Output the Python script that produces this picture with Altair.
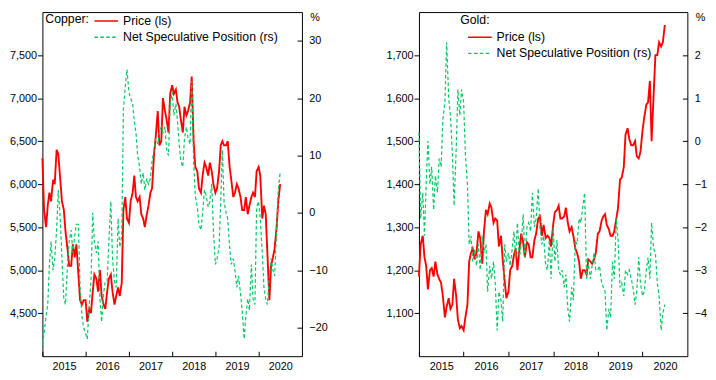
import altair as alt
import pandas as pd

# semi-monthly observation dates (1st and 15th), Jan 2015 - Jul 2020
dates = pd.date_range("2015-01-01", "2020-07-01", freq="SMS")

series_names = ["Price (ls)", "Net Speculative Position (rs)"]
year_ticks = [2015, 2016, 2017, 2018, 2019, 2020]

# ---- Copper ----
copper_price_2015 = [6300, 5700, 5500, 5750, 5900, 5800, 6050, 6000, 6400, 6350, 6050, 5800,
                     5700, 5450, 5250, 5050, 5050, 5300, 5150, 5300, 4950, 4650, 4600, 4650]
copper_price_2016 = [4650, 4400, 4550, 4500, 4750, 4950, 4900, 4750, 5000, 4700, 4600, 4550,
                     4750, 4900, 4950, 4750, 4600, 4700, 4800, 4700, 4850, 5700, 5850, 5600]
copper_price_2017 = [5550, 5800, 5900, 6100, 5850, 5800, 5850, 5650, 5600, 5500, 5650, 5750,
                     5900, 5950, 6350, 6550, 6850, 6450, 6500, 7000, 6850, 6750, 6600, 7050]
copper_price_2018 = [7150, 7050, 7100, 6950, 6900, 6750, 6600, 6900, 6800, 6850, 6950, 7250,
                     6500, 6200, 6150, 5950, 5900, 6100, 6250, 6200, 6100, 6250, 6150, 6000]
copper_price_2019 = [5900, 5950, 6150, 6450, 6500, 6450, 6450, 6500, 6200, 6050, 5850, 5900,
                     6000, 5950, 5850, 5700, 5700, 5850, 5650, 5750, 5850, 5900, 5850, 6150]
copper_price_2020 = [6200, 6100, 5600, 5750, 5650, 5200, 4650, 5050, 5150, 5250, 5500, 5800, 6000]

copper_spec_2015 = [-23, -21, -18, -16, -9, -5, -10, -8, -3, 4, -1, -8,
                    -15, -16, -9, -5, -3, -7, -4, -2, -2, -13, -18, -20]
copper_spec_2016 = [-21, -22, -16, -12, 0, -5, -7, -5, -15, -19, -14, -12,
                    -12, -5, 2, -8, -12, -13, -1, -6, -4, 18, 22, 25]
copper_spec_2017 = [21, 20, 19, 16, 14, 10, 8, 5, 7, 4, 6, 5,
                    6, 9, 11, 13, 12, 14, 15, 14, 15, 11, 10, 19]
copper_spec_2018 = [21, 17, 19, 16, 12, 9, 8, 13, 15, 13, 12, 23,
                    9, 3, 1, -2, -3, 0, 4, 3, 1, 2, 5, -3]
copper_spec_2019 = [-9, -8, -6, 2, 11, 2, 0, -1, -6, -9, -8, -10,
                    -13, -11, -14, -17, -22, -18, -15, -17, -9, -15, -16, 1]
copper_spec_2020 = [2, -1, -7, -13, -15, -16, -11, -8, -10, -11, -3, 4, 7]

# ---- Gold ----
gold_price_2015 = [1185, 1260, 1280, 1230, 1210, 1155, 1200, 1205, 1185, 1220, 1190, 1180,
                   1170, 1140, 1090, 1115, 1135, 1110, 1120, 1180, 1140, 1085, 1065, 1070]
gold_price_2016 = [1060, 1090, 1120, 1220, 1240, 1250, 1225, 1240, 1290, 1275, 1215, 1290,
                   1340, 1330, 1355, 1345, 1310, 1320, 1315, 1255, 1280, 1225, 1175, 1135]
gold_price_2017 = [1150, 1200, 1210, 1235, 1250, 1200, 1250, 1285, 1265, 1230, 1265, 1260,
                   1230, 1230, 1270, 1285, 1320, 1325, 1280, 1305, 1275, 1280, 1275, 1255]
gold_price_2018 = [1305, 1335, 1340, 1350, 1320, 1320, 1325, 1345, 1310, 1290, 1300, 1280,
                   1250, 1240, 1220, 1180, 1200, 1200, 1190, 1225, 1220, 1215, 1225, 1240]
gold_price_2019 = [1285, 1290, 1315, 1325, 1330, 1305, 1295, 1280, 1280, 1290, 1320, 1345,
                   1410, 1415, 1440, 1515, 1530, 1505, 1490, 1490, 1500, 1465, 1460, 1475]
gold_price_2020 = [1525, 1555, 1585, 1590, 1640, 1500, 1610, 1700, 1700, 1730, 1720, 1730, 1770]

gold_spec_2015 = [0.2, -1.8, -1.2, -2.2, -1.0, 0.0, -1.0, -0.6, -1.6, -0.8, -1.2, -0.4,
                  -0.6, 0.5, 0.9, 2.3, 1.0, 0.6, -0.3, -1.5, -0.2, 1.2, 0.6, 1.2]
gold_spec_2016 = [0.9, -0.3, -1.0, -2.4, -2.2, -2.8, -2.5, -2.9, -2.4, -3.0, -2.2, -2.6,
                  -2.4, -3.5, -2.9, -3.2, -2.8, -3.3, -4.4, -3.5, -3.7, -4.2, -2.4, -2.8]
gold_spec_2017 = [-2.6, -2.9, -2.5, -2.1, -2.7, -1.9, -2.7, -2.4, -1.7, -2.7, -2.0, -1.9,
                  -2.1, -1.2, -2.0, -1.8, -1.1, -2.0, -2.4, -2.2, -2.9, -3.0, -2.3, -3.2]
gold_spec_2018 = [-2.0, -2.8, -2.3, -3.0, -3.1, -3.0, -3.4, -3.1, -3.9, -4.2, -3.4, -3.7,
                  -2.3, -2.4, -1.8, -1.9, -1.5, -1.2, -3.2, -2.8, -3.2, -2.9, -2.6, -3.0]
gold_spec_2019 = [-3.0, -2.9, -3.3, -3.4, -3.5, -4.4, -3.9, -4.1, -2.8, -3.2, -1.8, -2.3,
                  -3.4, -3.3, -3.6, -3.0, -3.1, -3.0, -3.2, -3.4, -3.8, -3.5, -2.7, -3.3]
gold_spec_2020 = [-3.6, -3.5, -3.0, -2.7, -3.2, -1.9, -2.5, -2.6, -3.3, -3.6, -4.4, -4.0, -3.8]

copper_price = (copper_price_2015 + copper_price_2016 + copper_price_2017 +
                copper_price_2018 + copper_price_2019 + copper_price_2020)
copper_spec = (copper_spec_2015 + copper_spec_2016 + copper_spec_2017 +
               copper_spec_2018 + copper_spec_2019 + copper_spec_2020)
gold_price = (gold_price_2015 + gold_price_2016 + gold_price_2017 +
              gold_price_2018 + gold_price_2019 + gold_price_2020)
gold_spec = (gold_spec_2015 + gold_spec_2016 + gold_spec_2017 +
             gold_spec_2018 + gold_spec_2019 + gold_spec_2020)

FONT = "Liberation Sans"
RED = "#ff0000"
GREEN = "#00c864"


def frame(values, name):
    return pd.DataFrame({"date": dates, "value": values, "series": name})


def panel(title, price, spec, left_dom, left_vals, right_dom, right_vals,
          width, legend_x, legend_y, title_orient, symbol_offset,
          title_padding, title_baseline, title_line_height):
    x_axis = alt.Axis(
        values=[alt.DateTime(year=y, month=1, date=1) for y in year_ticks],
        format="%Y", title=None, grid=False, domain=False,
        offset=-5, tickSize=5, labelPadding=5,
        labelOffset=width / 12.0, labelFlush=False, labelOverlap=False,
    )
    x = alt.X("date:T",
              scale=alt.Scale(domain=[alt.DateTime(year=2015, month=1, date=1),
                                      alt.DateTime(year=2021, month=1, date=1)]),
              axis=x_axis)
    legend = alt.Legend(
        title=title, orient="none", legendX=legend_x, legendY=legend_y,
        titleOrient=title_orient, titleAnchor="start", titleBaseline=title_baseline,
        titleLineHeight=title_line_height,
        titleFontSize=12.5, titleFontWeight="normal",
        titleFont=FONT, titleColor="black", titlePadding=title_padding,
        labelFont=FONT, labelFontSize=12.5, labelColor="black",
        symbolType="M-1,0H2.43", symbolSize=196, symbolStrokeWidth=1.5,
        symbolOffset=symbol_offset,
        rowPadding=1.5, labelOffset=14, padding=0,
    )
    color = alt.Color("series:N",
                      scale=alt.Scale(domain=series_names, range=[RED, GREEN]),
                      legend=legend)
    dash = alt.StrokeDash("series:N",
                          scale=alt.Scale(domain=series_names, range=[[1, 0], [3.5, 2.5]]),
                          legend=legend)

    price_line = alt.Chart(frame(price, series_names[0])).mark_line(strokeWidth=1.9).encode(
        x=x,
        y=alt.Y("value:Q",
                scale=alt.Scale(domain=left_dom, nice=False, zero=False),
                axis=alt.Axis(orient="left", values=left_vals, format=",.0f", title=None,
                              grid=False, domain=False, tickSize=5, labelPadding=1,
                              labelFlush=False)),
        color=color, strokeDash=dash,
    )
    spec_line = alt.Chart(frame(spec, series_names[1])).mark_line(strokeWidth=1.2).encode(
        x=x,
        y=alt.Y("value:Q",
                scale=alt.Scale(domain=right_dom, nice=False, zero=False),
                axis=alt.Axis(orient="right", values=right_vals, format="d",
                              title="%", titleAngle=0, titleX=13, titleY=6,
                              titleAlign="left", titleBaseline="middle",
                              titleFontWeight="normal", titleFontSize=11, titleFont=FONT,
                              titleColor="black",
                              grid=False, domain=False, offset=-5, tickSize=5,
                              labelPadding=7, labelFlush=False)),
        color=color, strokeDash=dash,
    )
    return alt.layer(price_line, spec_line).resolve_scale(y="independent").properties(
        width=width, height=350)


copper = panel("Copper:", copper_price, copper_spec, [4000, 8000],
               [4500, 5000, 5500, 6000, 6500, 7000, 7500],
               [-25, 35], [-20, -10, 0, 10, 20, 30],
               264, 3, 1, "left", 0, 4, "top", 12.5)
gold = panel("Gold:", gold_price, gold_spec, [1000, 1800],
             [1100, 1200, 1300, 1400, 1500, 1600, 1700],
             [-5, 3], [-4, -3, -2, -1, 0, 1, 2],
             273, 42, 2, "top", 7, 3, "top", 12.5)

chart = alt.hconcat(copper, gold, spacing=57).resolve_scale(
    color="independent", strokeDash="independent", x="independent", y="independent"
).properties(padding=0).configure_view(
    stroke="black", strokeWidth=1
).configure_axis(
    labelFont=FONT, labelFontSize=11, labelColor="black",
    tickColor="black", domainColor="black", tickWidth=1,
).configure_legend(
    labelFont=FONT, titleFont=FONT,
)

chart.save("out.html", embed_options={"renderer": "svg", "actions": False})
